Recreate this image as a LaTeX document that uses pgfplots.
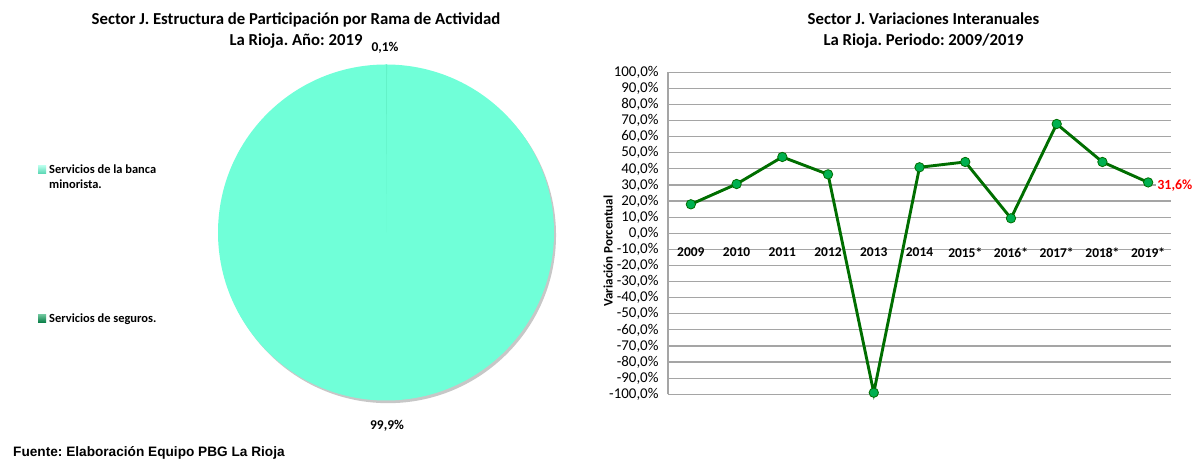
\documentclass[border=0pt]{standalone}
\usepackage{fontspec}
\setmainfont{Carlito}
\newfontfamily\arialfont{Liberation Sans}
\usepackage{pgfplots}
\pgfplotsset{compat=1.18}
\usepackage{pgfplotstable}
\definecolor{mint}{RGB}{112,255,216}
\definecolor{mintdark}{RGB}{90,215,180}
\definecolor{seguros}{RGB}{0,150,80}
\definecolor{linegreen}{RGB}{0,110,0}
\definecolor{markgreen}{RGB}{0,176,80}
\definecolor{gridgray}{RGB}{165,165,165}

\pgfplotstableread{
x val
0 18.0
1 30.6
2 47.4
3 36.6
4 -99.0
5 41.0
6 44.3
7 9.3
8 67.9
9 44.3
10 31.6
}\vardata

% pie shares (percent)
\def\shareBanca{99.9}
\def\shareSeguros{0.1}

\begin{document}
\frenchspacing
\begin{tikzpicture}[x=1bp,y=1bp]
\path[use as bounding box] (0,0) rectangle (1193,461);

% ---------- titles ----------
\node[font=\bfseries\fontsize{16.8}{21}\selectfont, align=center] at (296,430.5)
  {Sector J. Estructura de Participación por Rama de Actividad\\La Rioja. Año: 2019};
\node[font=\bfseries\fontsize{16.8}{21}\selectfont, align=center] at (923.5,430.5)
  {Sector J. Variaciones Interanuales\\La Rioja. Periodo: 2009/2019};

% ---------- pie ----------
\pgfmathsetmacro{\segang}{360*\shareSeguros/100}
\pgfmathsetmacro{\segx}{sin(\segang)}
\pgfmathsetmacro{\segy}{cos(\segang)}
\begin{axis}[at={(386bp,228.5bp)}, anchor=center, scale only axis,
  width=336bp, height=336bp, xmin=-1, xmax=1, ymin=-1, ymax=1,
  hide axis, clip=false]
  \fill[black, opacity=0.22] (axis cs:0.012,-0.016) circle[radius=1];
  \fill[mint] (axis cs:0,0) circle[radius=1];
  \addplot[fill=mint!88!seguros, draw=none] coordinates {(0,0) (0,1) (\segx,\segy)} -- cycle;
\end{axis}
\node[font=\bfseries\fontsize{13.5}{15}\selectfont] at (385,413) {0,1\%};
\node[font=\bfseries\fontsize{13.5}{15}\selectfont] at (387,35) {99,9\%};

% ---------- pie legend ----------
\shade[top color=mint!50!white, bottom color=mintdark] (38,287.5) rectangle (46,295.5);
\node[font=\bfseries\fontsize{12.5}{14}\selectfont, anchor=base west, inner sep=0] at (49,287.8) {Servicios de la banca};
\node[font=\bfseries\fontsize{12.5}{14}\selectfont, anchor=base west, inner sep=0] at (49,272.8) {minorista.};
\shade[top color=seguros!60!white, bottom color=seguros!80!black] (38,138) rectangle (46,146);
\node[font=\bfseries\fontsize{12.5}{14}\selectfont, anchor=base west, inner sep=0] at (49,138.3) {Servicios de seguros.};

% ---------- source ----------
\node[font=\arialfont\bfseries\fontsize{13.7}{15}\selectfont, anchor=west, inner sep=0] at (13,8) {Fuente: Elaboración Equipo PBG La Rioja};

% ---------- line chart ----------
\begin{axis}[at={(668bp,66.7bp)}, anchor=south west, scale only axis,
  width=503bp, height=322bp,
  xmin=-0.5, xmax=10.5, ymin=-100, ymax=100,
  axis x line=middle, axis y line=left,
  axis line style={-, draw=gridgray, line width=1.2bp},
  hide obscured x ticks=false, hide obscured y ticks=false,
  xtick={0,...,10},
  xticklabels={2009,2010,2011,2012,2013,2014,2015*,2016*,2017*,2018*,2019*},
  xticklabel style={font=\bfseries\fontsize{13.5}{15}\selectfont, yshift=-11bp},
  ytick={-100,-90,...,100},
  /pgf/number format/assume math mode=true,
  yticklabel={\pgfmathprintnumber[fixed,fixed zerofill,precision=1,use comma]{\tick}\%},
  yticklabel style={font=\fontsize{15}{16}\selectfont, xshift=-6bp},
  ymajorgrids, grid style={gridgray, line width=1.2bp},
  major tick length=0,
  clip=false]
  \addplot[linegreen, line width=2.9bp, mark=*, mark size=4.7bp,
    mark options={fill=markgreen, draw=linegreen, line width=0.8bp}]
    table[x=x, y=val] {\vardata};
  \node[text=red, fill=white, font=\bfseries\fontsize{14}{16}\selectfont, anchor=west, inner sep=1bp]
    at (axis cs:10,31.6) [xshift=8bp, yshift=-3bp] {31,6\%};
\end{axis}
\node[rotate=90, font=\bfseries\fontsize{13}{15}\selectfont] at (608,210) {Variación Porcentual};
\end{tikzpicture}
\end{document}
